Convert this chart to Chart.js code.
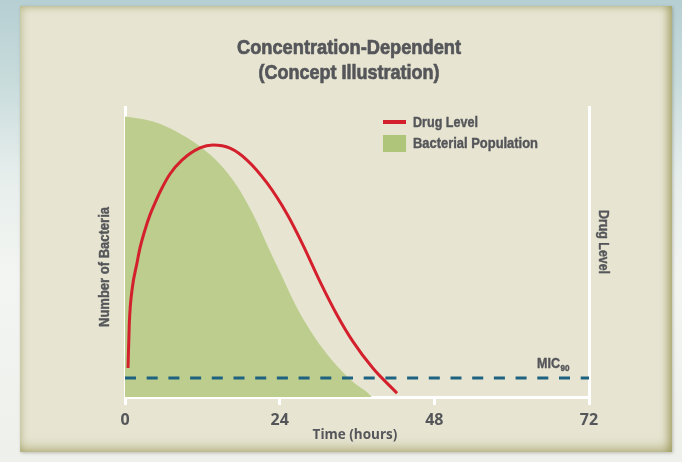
<!DOCTYPE html>
<html>
<head>
<meta charset="utf-8">
<script src="https://cdn.jsdelivr.net/npm/chart.js@4.4.0/dist/chart.umd.min.js"></script>
<style>
  html, body { margin: 0; padding: 0; }
  body {
    width: 682px;
    height: 462px;
    position: relative;
    overflow: hidden;
    background: linear-gradient(to bottom, #b6cfd3 0%, #c9dcdc 18%, #e6eeec 38%, #f3f5f2 60%, #eef0ec 100%);
  }
  #panel {
    position: absolute;
    left: 20px;
    top: 6px;
    width: 652px;
    height: 446px;
    background: #e7e5d2;
    box-shadow:
      inset -7px 0 9px -3px rgba(150, 145, 80, 0.75),
      inset 0 -9px 12px -5px rgba(150, 145, 80, 0.55),
      inset 5px 5px 7px -3px rgba(150, 145, 80, 0.35),
      1px 1px 3px rgba(90, 90, 60, 0.35);
  }
  #chart { position: absolute; left: 0; top: 0; }
</style>
</head>
<body>
<div id="panel"></div>
<canvas id="chart" width="682" height="462"></canvas>
<script>
const xTicks = [0, 24, 48, 72];

const bacteriaHours = [0, 4.35, 8.07, 11.64, 14.74, 17.38, 19.86, 22.5, 24.05, 26.7, 28.7, 30.7, 32.9, 35.4, 37.7, 38.3];
const bacteriaCount = [96.7, 95.0, 91.4, 86.4, 80.3, 72.8, 63.1, 50.3, 43.1, 30.7, 23.1, 16.6, 10.7, 5.2, 1.4, 0];

const drugHours = [0.47, 0.67, 1.09, 1.86, 2.33, 3.10, 3.88, 4.66, 5.43, 6.98, 8.84, 11.64, 13.66, 16.29, 18.93, 22.03, 25.14, 27.62, 30.26, 32.9, 35.38, 38.48, 42.21];
const drugLevel = [10.0, 25.5, 36.9, 46.2, 51.4, 57.6, 62.8, 66.9, 70.7, 76.9, 81.7, 85.9, 86.9, 85.8, 81.7, 73.8, 63.1, 52.4, 39.8, 28.3, 19.1, 9.9, 1.3];

const micHours = [0, 72];
const micLevel = 6.55;

const textColor = "#55565a";
const sans = '"Liberation Sans", Arial, sans-serif';
const wide = '"Open Sans", "DejaVu Sans", sans-serif';

function toPoints(xs, ys) {
  return xs.map((x, i) => ({ x: x, y: Array.isArray(ys) ? ys[i] : ys }));
}

// condensed look: squeeze a bold face to the width seen in the picture
function narrowText(ctx, text, x, y, size, width, align) {
  ctx.save();
  ctx.font = "bold " + size + "px " + sans;
  const w = ctx.measureText(text).width;
  const sx = width / w;
  ctx.translate(x, y);
  ctx.scale(sx, 1);
  ctx.textAlign = align;
  ctx.strokeStyle = ctx.fillStyle;
  ctx.lineWidth = size > 16 ? 0.7 : 0.4;
  ctx.fillText(text, 0, 0);
  ctx.strokeText(text, 0, 0);
  ctx.restore();
  return width;
}

const annotations = {
  id: "annotations",
  afterDraw(chart) {
    const ctx = chart.ctx;
    ctx.save();
    ctx.fillStyle = textColor;
    ctx.textBaseline = "alphabetic";

    narrowText(ctx, "Concentration-Dependent", 349, 54, 21, 224, "center");
    narrowText(ctx, "(Concept Illustration)", 349, 79, 21, 181, "center");

    // legend
    ctx.fillStyle = "#d4202c";
    ctx.fillRect(383, 120, 23, 4);
    ctx.fillStyle = "#afc67a";
    ctx.fillRect(383, 135, 23, 17);
    ctx.fillStyle = textColor;
    narrowText(ctx, "Drug Level", 413, 127, 14, 65, "left");
    narrowText(ctx, "Bacterial Population", 413, 148, 14, 125, "left");

    // MIC90 label
    const w = narrowText(ctx, "MIC", 537, 368, 14, 23, "left");
    narrowText(ctx, "90", 537 + w + 0.5, 371, 9, 9, "left");

    // x title
    ctx.textAlign = "center";
    ctx.textBaseline = "middle";
    ctx.font = "bold 13.5px " + wide;
    ctx.fillText("Time (hours)", 355, 435);

    // y titles
    ctx.save();
    ctx.translate(105, 267);
    ctx.rotate(-Math.PI / 2);
    narrowText(ctx, "Number of Bacteria", 0, 0, 14, 120, "center");
    ctx.restore();

    ctx.save();
    ctx.translate(603, 242);
    ctx.rotate(Math.PI / 2);
    narrowText(ctx, "Drug Level", 0, 0, 14, 64, "center");
    ctx.restore();

    ctx.restore();
  },
};

const yAxis = (pos) => ({
  type: "linear",
  position: pos,
  min: 0,
  max: 100,
  ticks: { display: false },
  grid: { display: false },
  border: { display: true, color: "#ffffff", width: 3 },
  afterFit: (s) => { s.width = 0; },
});

new Chart(document.getElementById("chart"), {
  type: "line",
  data: {
    datasets: [
      {
        label: "Drug Level",
        data: toPoints(drugHours, drugLevel),
        yAxisID: "y2",
        borderColor: "#d4202c",
        borderWidth: 3,
        pointRadius: 0,
        fill: false,
        cubicInterpolationMode: "monotone",
        order: 0,
      },
      {
        label: "MIC90",
        data: toPoints(micHours, micLevel),
        borderColor: "#1d6280",
        borderWidth: 3,
        borderDash: [11, 10.7],
        pointRadius: 0,
        fill: false,
        order: 1,
      },
      {
        label: "Bacterial Population",
        data: toPoints(bacteriaHours, bacteriaCount),
        borderWidth: 0,
        borderColor: "rgba(0,0,0,0)",
        backgroundColor: "#bccd8d",
        pointRadius: 0,
        fill: "origin",
        cubicInterpolationMode: "monotone",
        order: 2,
      },
    ],
  },
  options: {
    responsive: false,
    animation: false,
    layout: { padding: { left: 125, right: 93, top: 107, bottom: 0 } },
    plugins: {
      legend: { display: false },
      title: { display: false },
      tooltip: { enabled: false },
    },
    scales: {
      x: {
        type: "linear",
        min: 0,
        max: 72,
        afterBuildTicks: (s) => { s.ticks = xTicks.map((v) => ({ value: v })); },
        ticks: {
          color: textColor,
          font: { family: wide, size: 16, weight: "bold" },
          padding: 6,
        },
        grid: {
          display: true,
          drawOnChartArea: false,
          drawTicks: true,
          tickLength: 8,
          color: "#ffffff",
          lineWidth: 3,
        },
        border: { display: true, color: "#ffffff", width: 3 },
        afterFit: (s) => { s.height = 65; },
      },
      y: yAxis("left"),
      y2: yAxis("right"),
    },
  },
  plugins: [annotations],
});
</script>
</body>
</html>
